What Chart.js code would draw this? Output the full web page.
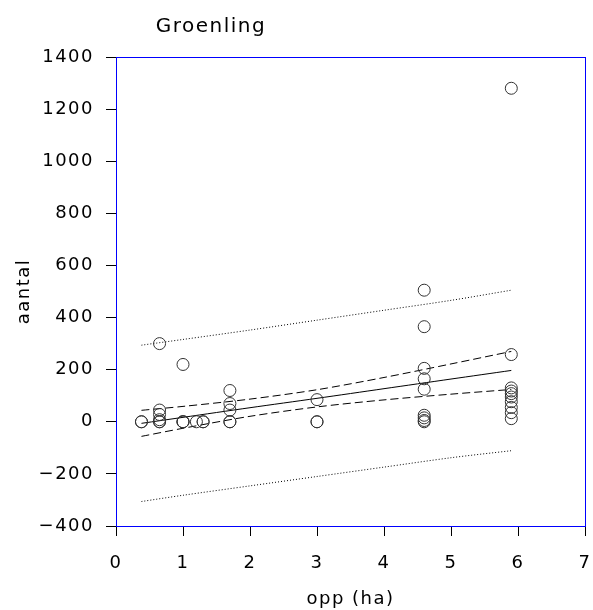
<!DOCTYPE html>
<html>
<head>
<meta charset="utf-8">
<script src="https://cdn.jsdelivr.net/npm/chart.js@4"></script>
<style>
  body { margin: 0; background: #fff; }
  #wrap { width: 593px; height: 610px; }
</style>
</head>
<body>
<div id="wrap"><canvas id="groenChart"></canvas></div>
<script>
// waarnemingen (opp in ha, aantal)
const oppX = [0.38, 0.38, 0.65, 0.65, 0.65, 0.65, 0.65, 0.65, 1.0, 1.0, 1.0, 1.0, 1.2, 1.3, 1.3,
    1.7, 1.7, 1.7, 1.7, 1.7, 3.0, 3.0, 3.0,
    4.6, 4.6, 4.6, 4.6, 4.6, 4.6, 4.6, 4.6, 4.6,
    5.9, 5.9, 5.9, 5.9, 5.9, 5.9, 5.9, 5.9, 5.9, 5.9];
const aantalY = [0, 0, 300, 45, 28, 8, 0, 0, 220, 0, 0, 0, 0, 0, 0,
    120, 70, 45, 0, 0, 85, 0, 0,
    505, 365, 205, 165, 125, 25, 15, 5, 0,
    1280, 258, 130, 118, 108, 95, 77, 55, 35, 12];

const lijnX = [0.38, 1, 2, 3, 4, 5, 5.9];
const fitY = [-6, 17, 54, 90, 127, 164, 197];
const confBoven = [44, 59, 87, 123, 170, 222, 270];
const confOnder = [-56, -25, 21, 57, 84, 106, 124];
const predBoven = [294, 316, 352, 390, 428, 466, 505];
const predOnder = [-306, -282, -246, -210, -174, -138, -111];

const xTicks = [0, 1, 2, 3, 4, 5, 6, 7];
const yTicks = [-400, -200, 0, 200, 400, 600, 800, 1000, 1200, 1400];

const FONT = 'DejaVu Sans';
const SPATIE = '1.5px';

function punten(xs, ys) {
    return xs.map((x, i) => ({ x: x, y: ys[i] }));
}

function lijn(ys, dash) {
    return {
        type: 'line',
        data: punten(lijnX, ys),
        borderColor: '#000',
        borderWidth: 1,
        borderDash: dash,
        pointRadius: 0,
        fill: false,
        tension: 0.3
    };
}

// letters iets uit elkaar, zoals in het origineel
const spatiePlugin = {
    id: 'spatie',
    beforeInit(chart) { chart.ctx.letterSpacing = SPATIE; },
    beforeUpdate(chart) { chart.ctx.letterSpacing = SPATIE; },
    beforeDraw(chart) { chart.ctx.letterSpacing = SPATIE; }
};

// blauw kader + titel
const kaderPlugin = {
    id: 'kader',
    afterDraw(chart) {
        const { ctx, chartArea: a } = chart;
        ctx.save();
        ctx.strokeStyle = '#0000ff';
        ctx.lineWidth = 1;
        ctx.strokeRect(a.left + 0.5, a.top + 0.5, a.right - a.left, a.bottom - a.top);
        ctx.fillStyle = '#000';
        ctx.font = '20px "' + FONT + '"';
        ctx.textAlign = 'center';
        ctx.textBaseline = 'middle';
        ctx.fillText('Groenling', a.left + 95, 27);
        ctx.restore();
    }
};

const ctx = document.getElementById('groenChart').getContext('2d');
new Chart(ctx, {
    type: 'scatter',
    data: {
        datasets: [
            {
                data: punten(oppX, aantalY),
                pointStyle: 'circle',
                pointRadius: 6,
                pointBorderWidth: 1,
                pointBorderColor: '#333',
                pointBackgroundColor: 'rgba(0,0,0,0)',
                showLine: false
            },
            lijn(fitY, []),
            lijn(confBoven, [8, 4]),
            lijn(confOnder, [8, 4]),
            lijn(predBoven, [1, 2]),
            lijn(predOnder, [1, 2])
        ]
    },
    plugins: [spatiePlugin, kaderPlugin],
    options: {
        responsive: true,
        maintainAspectRatio: false,
        animation: false,
        layout: { padding: { top: 57, right: 8, left: 0, bottom: 0 } },
        plugins: {
            legend: { display: false },
            tooltip: { enabled: false }
        },
        scales: {
            x: {
                type: 'linear',
                min: 0,
                max: 7,
                afterBuildTicks: s => { s.ticks = xTicks.map(v => ({ value: v })); },
                afterFit: s => { s.height = 84; s.paddingLeft = 0; s.paddingRight = 0; },
                grid: { drawOnChartArea: false, tickLength: 10, color: '#000', tickColor: '#000' },
                border: { display: false },
                ticks: { color: '#000', padding: 17, font: { family: FONT, size: 18 }, maxRotation: 0 },
                title: { display: true, text: 'opp (ha)', color: '#000', font: { family: FONT, size: 18 }, padding: 0 }
            },
            y: {
                type: 'linear',
                min: -400,
                max: 1400,
                afterBuildTicks: s => { s.ticks = yTicks.map(v => ({ value: v })); },
                afterFit: s => { s.width = 116; s.paddingTop = 0; s.paddingBottom = 0; },
                grid: { drawOnChartArea: false, tickLength: 10, color: '#000', tickColor: '#000' },
                border: { display: false },
                ticks: {
                    color: '#000', padding: 12, font: { family: FONT, size: 18 },
                    callback: v => (v < 0 ? '\u2212' + Math.abs(v) : String(v))
                },
                title: { display: true, text: 'aantal', color: '#000', font: { family: FONT, size: 18 }, padding: { top: 14, bottom: 0 } }
            }
        }
    }
});
</script>
</body>
</html>
